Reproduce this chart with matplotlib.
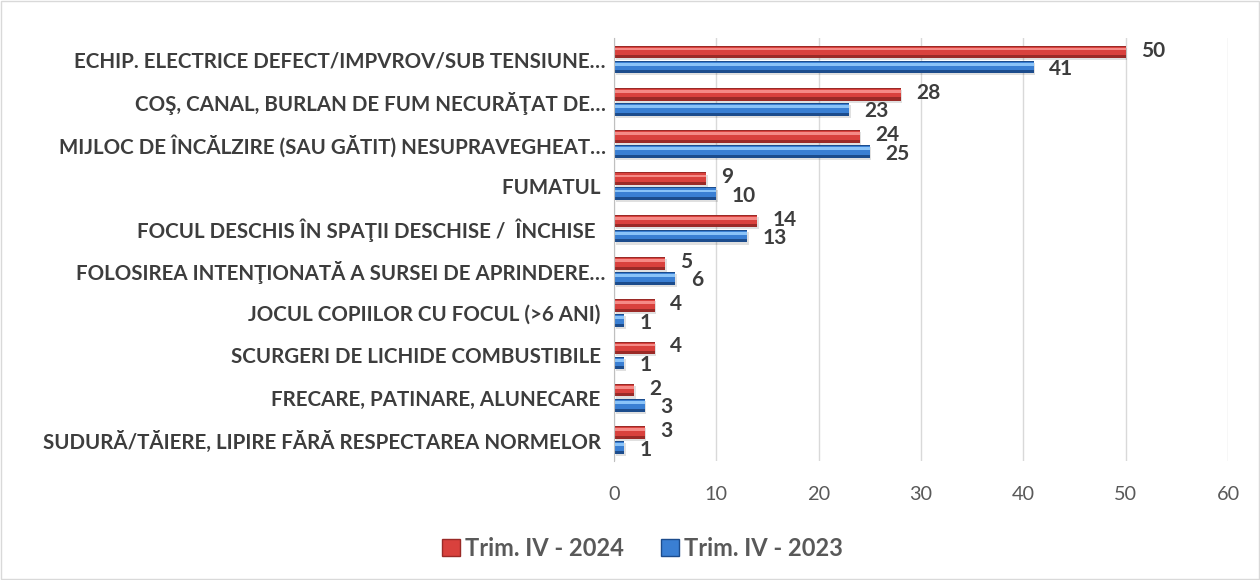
import numpy as np
import matplotlib.pyplot as plt
from matplotlib.patches import Patch

categories = [
    "ECHIP. ELECTRICE DEFECT/IMPVROV/SUB TENSIUNE…",
    "COŞ, CANAL, BURLAN DE FUM NECURĂŢAT DE…",
    "MIJLOC DE ÎNCĂLZIRE (SAU GĂTIT) NESUPRAVEGHEAT…",
    "FUMATUL ",
    "FOCUL DESCHIS ÎN SPAŢII DESCHISE /  ÎNCHISE  ",
    "FOLOSIREA INTENŢIONATĂ A SURSEI DE APRINDERE…",
    "JOCUL COPIILOR CU FOCUL (>6 ANI) ",
    "SCURGERI DE LICHIDE COMBUSTIBILE ",
    "FRECARE, PATINARE, ALUNECARE ",
    "SUDURĂ/TĂIERE, LIPIRE FĂRĂ RESPECTAREA NORMELOR ",
]
trim_2024 = [50, 28, 24, 9, 14, 5, 4, 4, 2, 3]
trim_2023 = [41, 23, 25, 10, 13, 6, 1, 1, 3, 1]
series_labels = ["Trim. IV - 2024", "Trim. IV - 2023"]

plt.rcParams['font.family'] = ['Lato', 'DejaVu Sans']

RED = ('#9a2a27', '#d9413d', '#f58a86')   # dark, mid, light
BLUE = ('#1c4c8c', '#3a7fd3', '#8ac3f8')
TXT = '#3d3d3d'

fig = plt.figure(figsize=(12.6, 5.8), dpi=100)
fig.patches.append(plt.Rectangle((0.001, 0.002), 0.998, 0.996, transform=fig.transFigure,
                                 fill=False, edgecolor='#d9d9d9', linewidth=1))
ax = fig.add_axes([0.4873, 0.205, 0.4873, 0.729])

y = np.arange(len(categories))
h = 0.30
off = 0.178


def bevel_bar(ypos, vals, cols):
    dark, mid, light = cols
    # shadow
    ax.barh(ypos + 0.05, vals, height=h, left=0.15, color='#000000', alpha=0.12, zorder=2)
    ax.barh(ypos, vals, height=h, color=dark, zorder=3)
    ax.barh(ypos - h * 0.08, vals, height=h * 0.68, color=mid, zorder=4)
    ax.barh(ypos - h * 0.22, vals, height=h * 0.22, color=light, zorder=5)


bevel_bar(y - off, np.array(trim_2024), RED)
bevel_bar(y + off, np.array(trim_2023), BLUE)

for yi, v in zip(y, trim_2024):
    ax.annotate(str(v), (v, yi - off), xytext=(11, 1), textcoords='offset points',
                ha='left', va='center', fontsize=15, fontweight='bold', color=TXT)
for yi, v in zip(y, trim_2023):
    ax.annotate(str(v), (v, yi + off), xytext=(11, -1.5), textcoords='offset points',
                ha='left', va='center', fontsize=15, fontweight='bold', color=TXT)

ax.set_xlim(0, 60)
ax.set_ylim(len(categories) - 0.5, -0.5)
ax.set_xticks(range(0, 61, 10))
ax.set_yticks(y)
ax.set_yticklabels(categories, fontsize=14.8, fontweight='bold', color=TXT)
ax.tick_params(axis='y', length=0, pad=6)
ax.tick_params(axis='x', length=0, pad=18, labelsize=14.3, labelcolor='#595959')
ax.grid(axis='x', color='#d9d9d9', linewidth=1, zorder=0)
ax.set_axisbelow(True)
for s in ['top', 'right', 'bottom']:
    ax.spines[s].set_visible(False)
ax.spines['left'].set_color('#bfbfbf')
ax.spines['left'].set_zorder(6)

handles = [Patch(facecolor=RED[1], edgecolor=RED[0]), Patch(facecolor=BLUE[1], edgecolor=BLUE[0])]
fig.legend(handles, series_labels, loc='center', bbox_to_anchor=(0.51, 0.055), ncol=2,
           frameon=False, prop={'size': 17, 'weight': 'bold'}, labelcolor='#595959',
           handlelength=0.75, handleheight=0.75, handletextpad=0.2, columnspacing=1.6)

fig.savefig('out.png', dpi=100)
